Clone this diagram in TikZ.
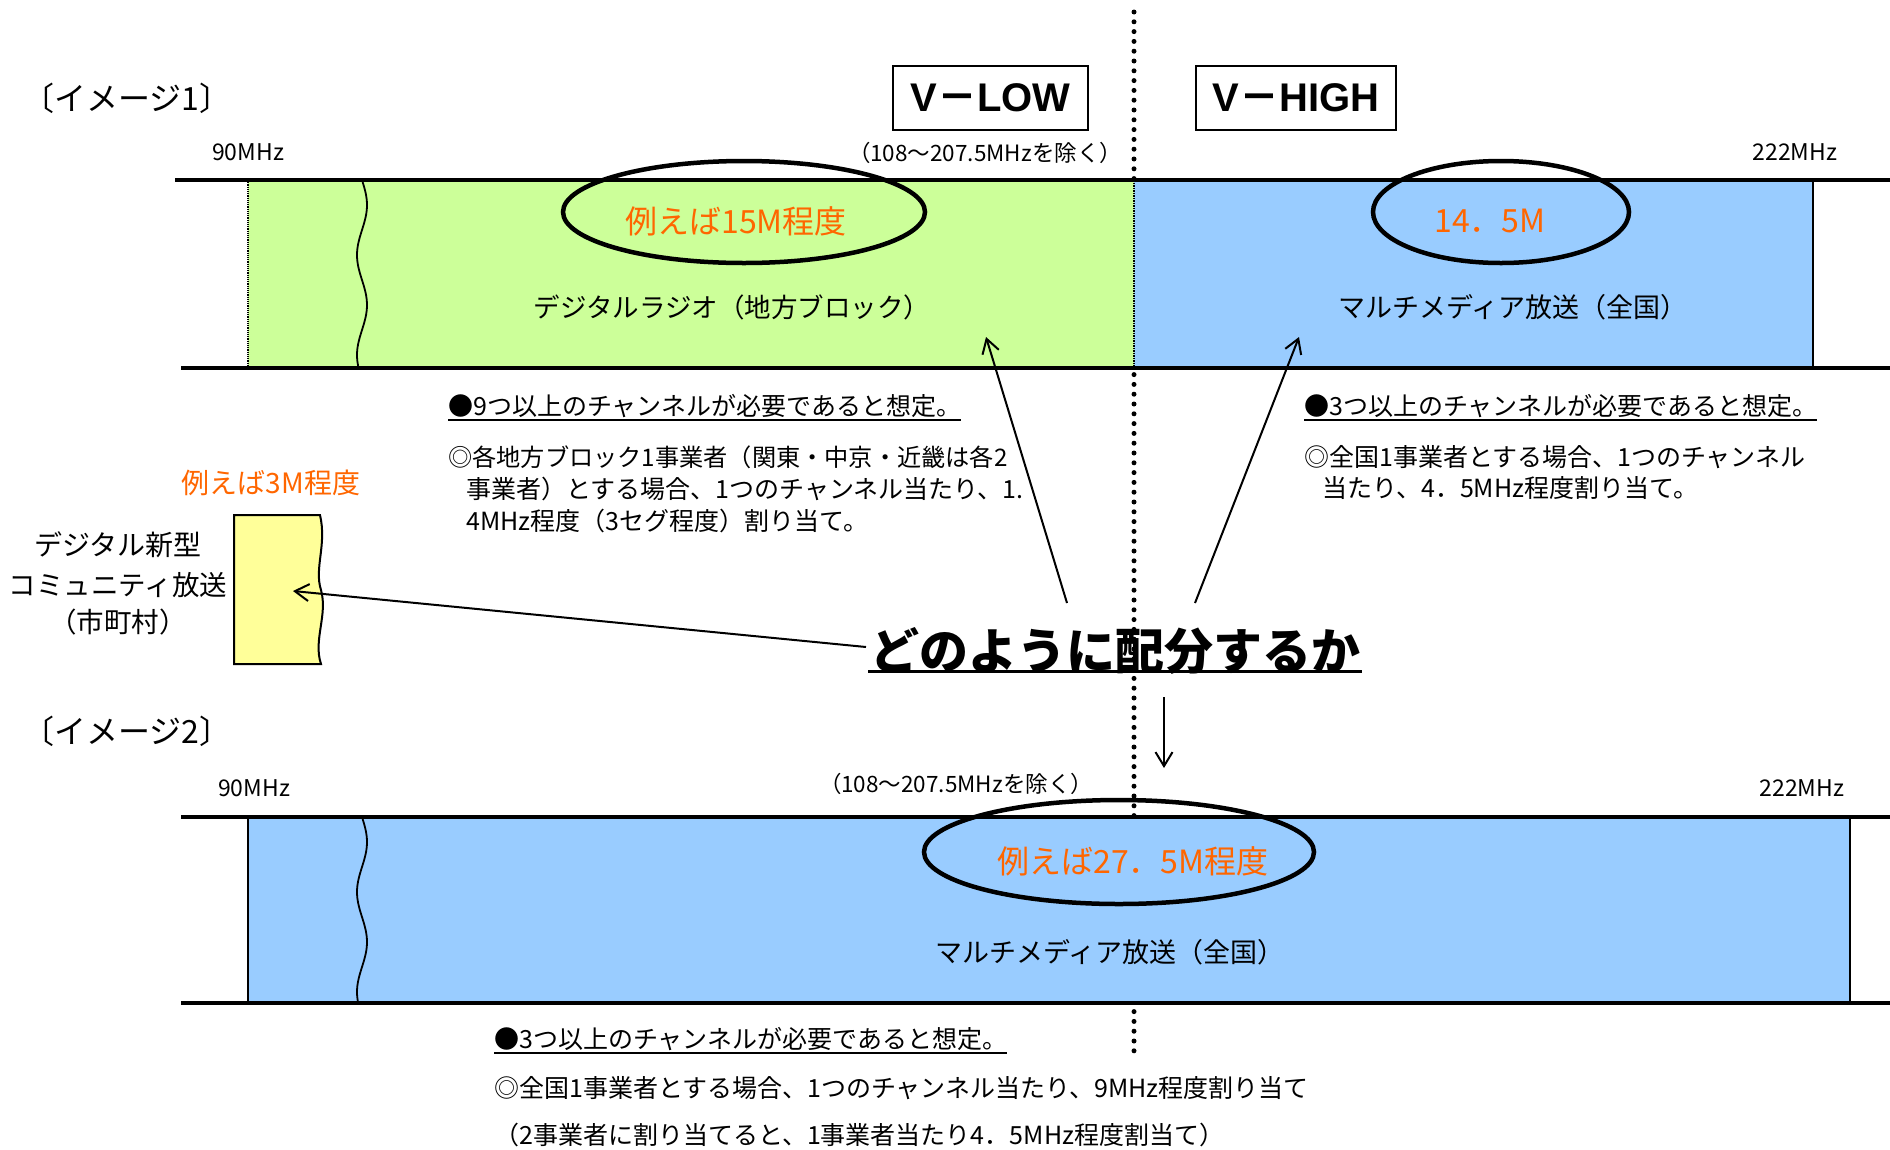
\documentclass[tikz,border=0pt]{standalone}
\usepackage{fontspec}
\setmainfont{Noto Sans CJK JP}
\newfontfamily\jp{Noto Sans CJK JP}
\newfontfamily\lat{Liberation Sans}
\usetikzlibrary{arrows.meta,shapes.geometric}
\definecolor{bandgreen}{HTML}{CCFF99}
\definecolor{bandblue}{HTML}{99CCFF}
\definecolor{boxyellow}{HTML}{FFFF99}
\definecolor{accentorange}{HTML}{FF6600}
\newcommand{\fsz}[1]{\fontsize{#1}{#1}\selectfont}
\begin{document}
\begin{tikzpicture}[x=1pt,y=-1pt,
  bandline/.style={line width=4.5pt},
  ring/.style={ellipse,draw,line width=4.5pt,inner sep=0pt},
  conn/.style={line width=2pt,-{Straight Barb[length=14pt,width=17pt,line width=2pt]}},
  lbl/.style={inner sep=0pt,anchor=center},
  body/.style={inner sep=0pt,anchor=west,font=\fsz{25}},
  freq/.style={inner sep=0pt,anchor=center,font=\fsz{23}},
  excl/.style={inner sep=0pt,anchor=center,font=\fsz{22.5}},
  big/.style={inner sep=0pt,anchor=center,text=accentorange},
  wave/.style={line width=1.8pt},
  vbox/.style={draw,line width=2pt,minimum width=195pt,minimum height=64pt,inner sep=0pt,font=\lat\bfseries\fsz{40}}
]
\useasboundingbox (0,0) rectangle (1890,1149);

% big dotted divider
\draw[line width=5pt,line cap=round,dash pattern=on 0pt off 9.8pt] (1134,12) -- (1134,1058);

% ===== Image 1 =====
\node[lbl,font=\fsz{32}] (t1) at (127,98) {〔イメージ1〕};
\node[vbox] (vlow) at (990.5,98) {V{\jp\bfseries －}LOW};
\node[vbox,minimum width=200pt] (vhigh) at (1296,98) {V{\jp\bfseries －}HIGH};
\node[freq] (f90a) at (248,152) {90MHz};
\node[excl] (exa) at (985,153) {（108～207.5MHzを除く）};
\node[freq] (f222a) at (1795,152) {222MHz};

\fill[bandgreen] (248,180) rectangle (1134,368);
\fill[bandblue] (1134,180) rectangle (1813,368);
\draw[densely dotted,line width=1.2pt] (248,180) -- (248,368);
\draw[densely dotted,line width=1.5pt] (1134,180) -- (1134,368);
\draw[line width=2pt] (1813,180) -- (1813,368);
\draw[bandline] (175,180) -- (1890,180);
\draw[bandline] (181,368) -- (1890,368);
\draw[wave] plot[smooth,domain=182:366,samples=40] ({362+5*sin((\x-180)*3.6)},\x);

\node[ring,minimum width=362pt,minimum height=102pt] (e1) at (744,212) {};
\node[ring,minimum width=256pt,minimum height=102pt] (e2) at (1501,212) {};
\node[big,font=\fsz{32}] (o1) at (736,221) {例えば15M程度};
\node[big,font=\fsz{32}] (o2) at (1490,221) {14．5M};
\node[lbl,font=\fsz{26.5}] (n1) at (732,307) {デジタルラジオ（地方ブロック）};
\node[lbl,font=\fsz{27}] (n2) at (1513,307) {マルチメディア放送（全国）};

% notes under image 1
\node[body] (a0) at (448,406) {●9つ以上のチャンネルが必要であると想定。};
\draw[line width=2pt] ([yshift=-5pt]a0.base west) -- ([yshift=-5pt]a0.base east);
\node[body,font=\fsz{24.2}] (a1) at (448,457) {◎各地方ブロック1事業者（関東・中京・近畿は各2};
\node[body] (a2) at (466,489) {事業者）とする場合、1つのチャンネル当たり、1.};
\node[body] (a3) at (466,521) {4MHz程度（3セグ程度）割り当て。};

\node[body] (b0) at (1304,406) {●3つ以上のチャンネルが必要であると想定。};
\draw[line width=2pt] ([yshift=-5pt]b0.base west) -- ([yshift=-5pt]b0.base east);
\node[body] (b1) at (1304,457) {◎全国1事業者とする場合、1つのチャンネル};
\node[body] (b2) at (1322,488) {当たり、4．5MHz程度割り当て。};

% community box
\node[big,font=\fsz{28}] (o3) at (271,483) {例えば3M程度};
\filldraw[fill=boxyellow,line width=2pt] (234,515) -- (320,515)
  .. controls (327,545) and (314,568) .. (321,590)
  .. controls (328,615) and (313,640) .. (321,664) -- (234,664) -- cycle;
\coordinate (ytip) at (293,591);
\node[lbl,font=\fsz{28}] (c1) at (118,545) {デジタル新型};
\node[lbl,font=\fsz{27.5}] (c2) at (118,585) {コミュニティ放送};
\node[lbl,font=\fsz{27.5}] (c3) at (118,622) {（市町村）};

% question
\node[lbl,font=\bfseries\fsz{49}] (q) at (1115,651) {どのように配分するか};
\draw[line width=3pt] (868,671) -- (1362,671);
\coordinate (qL) at (866,647);
\coordinate (qA) at (1067,603);
\coordinate (qB) at (1195,603);
\coordinate (qD) at (1164,697);
\coordinate (g1) at (986,337);
\coordinate (h1) at (1299,337);
\coordinate (d2) at (1164,768);
\draw[conn] (qL) -- (ytip);
\draw[conn] (qA) -- (g1);
\draw[conn] (qB) -- (h1);
\draw[conn] (qD) -- (d2);

% ===== Image 2 =====
\node[lbl,font=\fsz{32}] (t2) at (127,731) {〔イメージ2〕};
\node[freq] (f90b) at (254,788) {90MHz};
\node[excl] (exb) at (956,784) {（108～207.5MHzを除く）};
\node[freq] (f222b) at (1802,788) {222MHz};

\fill[bandblue] (248,817) rectangle (1850,1003);
\draw[line width=2pt] (248,817) -- (248,1003);
\draw[line width=2pt] (1850,817) -- (1850,1003);
\draw[bandline] (181,817) -- (1890,817);
\draw[bandline] (181,1003) -- (1890,1003);
\draw[wave] plot[smooth,domain=819:1001,samples=40] ({362+5*sin((\x-817)*3.6)},\x);

\node[ring,minimum width=390pt,minimum height=104pt] (e3) at (1119,852) {};
\node[big,font=\fsz{32}] (o4) at (1133,861) {例えば27．5M程度};
\node[lbl,font=\fsz{27}] (n3) at (1110,952) {マルチメディア放送（全国）};

\node[body] (c0) at (494,1039) {●3つ以上のチャンネルが必要であると想定。};
\draw[line width=2pt] ([yshift=-5pt]c0.base west) -- ([yshift=-5pt]c0.base east);
\node[body] (c4) at (494,1088) {◎全国1事業者とする場合、1つのチャンネル当たり、9MHz程度割り当て};
\node[body] (c5) at (494,1135) {（2事業者に割り当てると、1事業者当たり4．5MHz程度割当て）};
\end{tikzpicture}
\end{document}
